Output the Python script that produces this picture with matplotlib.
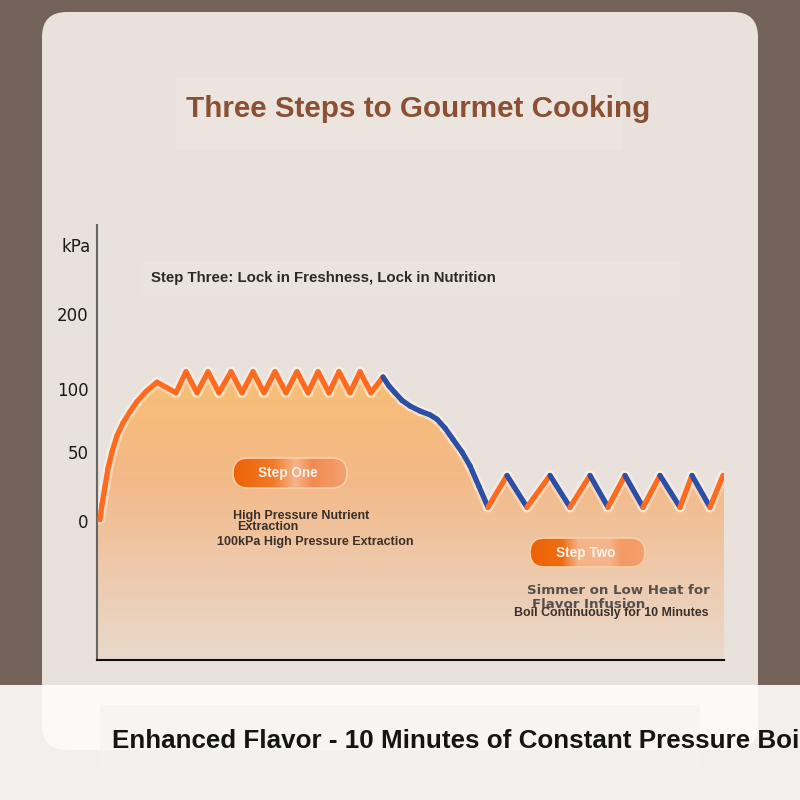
import numpy as np
import matplotlib.pyplot as plt
from matplotlib.patches import FancyBboxPatch, Rectangle, Polygon
from matplotlib.collections import LineCollection
from matplotlib.colors import LinearSegmentedColormap

# ---- data (time units, kPa) ----
rise_t = [3, 5, 8, 11, 15, 20, 26, 33, 40, 49, 60]
rise_kpa = [1, 12, 25, 38, 50, 63, 73, 82, 90, 98, 109]

plateau_t = [79, 89, 100, 111, 122, 134, 145, 156, 167, 178, 189, 200, 211,
             221, 232, 242, 253, 263, 274, 286]
plateau_kpa = [97, 123, 97, 123, 97, 123, 97, 123, 97, 123, 97, 123, 97,
               123, 97, 123, 97, 123, 97, 116]

drop_t = [292, 298, 305, 313, 323, 333, 340, 348, 356, 365, 373, 382, 391]
drop_kpa = [104, 97, 91, 86.5, 82.5, 79.5, 76, 69, 60, 50, 40, 25, 10]

low_t = [410, 430, 453, 473, 493, 511, 528, 546, 563, 583, 595, 613, 626]
low_kpa = [33, 10, 33, 10, 33, 10, 33, 10, 33, 10, 33, 10, 33]

tick_vals = [0, 50, 100, 200]
tick_labels = ['0', '50', '100', '200']

# uneven axis from the picture: kPa anchor -> height above baseline
scale_kpa = [-100, 0, 50, 100, 200, 320]
scale_pos = [0, 139, 208, 271, 346, 435]

ORANGE = '#ff6a1f'
BLUE = '#2b4fa6'

fig = plt.figure(figsize=(8, 8), dpi=100)
fig.patch.set_facecolor('#73635a')

# background layer in pixel coordinates
bg = fig.add_axes([0, 0, 1, 1])
bg.set_xlim(0, 800)
bg.set_ylim(800, 0)
bg.axis('off')

card = FancyBboxPatch((42 + 25, 12 + 25), 716 - 50, 738 - 50,
                      boxstyle='round,pad=25', fc='#e9e1db', ec='none')
bg.add_patch(card)
bg.add_patch(Rectangle((0, 685), 800, 115, fc='#f1f0ee', ec='none'))
card_low = FancyBboxPatch((42 + 25, 12 + 25), 716 - 50, 738 - 50,
                          boxstyle='round,pad=25', fc='#fbfaf8', ec='none')
bg.add_patch(card_low)
clip = Rectangle((0, 685), 800, 115, transform=bg.transData)
card_low.set_clip_path(clip)

# faint boxes behind titles
bg.add_patch(Rectangle((176, 78), 447, 72, fc='#ece5df', ec='none'))
bg.add_patch(Rectangle((140, 262), 540, 34, fc='#ebe4de', ec='none'))
bg.add_patch(Rectangle((100, 705), 600, 62, fc='#f4f3f1', ec='none', alpha=0.6))

bg.text(418, 109, 'Three Steps to Gourmet Cooking', ha='center', va='center',
        fontsize=21.3, fontweight='bold', color='#8a5034', family='Liberation Sans')
bg.text(151, 278, 'Step Three: Lock in Freshness, Lock in Nutrition', ha='left',
        va='center', fontsize=10.8, fontweight='bold', color='#2d2926',
        family='Liberation Sans')
bg.text(91, 247, 'kPa', ha='right', va='center', fontsize=12, color='#1a1a1a')

# ---- chart axes ----
ax = fig.add_axes([97 / 800, 1 - 660 / 800, (724 - 97) / 800, (660 - 225) / 800])
ax.set_facecolor('none')


def fwd(v):
    return np.interp(v, scale_kpa, scale_pos)


def inv(v):
    return np.interp(v, scale_pos, scale_kpa)


ax.set_yscale('function', functions=(fwd, inv))
ax.set_xlim(0, 627)
ax.set_ylim(-100, 320)

t_all = np.array(rise_t + plateau_t + drop_t + low_t, dtype=float)
k_all = np.array(rise_kpa + plateau_kpa + drop_kpa + low_kpa, dtype=float)

# gradient fill under the curve
poly_x = np.concatenate([[0, 0], t_all, [627, 627]])
poly_y = np.concatenate([[-100, k_all[0]], k_all, [k_all[-1], -100]])
fill = Polygon(np.column_stack([poly_x, poly_y]), closed=True,
               transform=ax.transData, fc='none', ec='none')
ax.add_patch(fill)
grad_cmap = LinearSegmentedColormap.from_list(
    'g', [(0, '#e9d9cc'), (0.25, '#efc6a4'), (0.42, '#f3b987'),
          (0.6, '#f6bd79'), (1, '#f6c078')])
grad = np.linspace(0, 1, 256).reshape(-1, 1)
im = ax.imshow(grad, cmap=grad_cmap, aspect='auto', origin='lower',
               extent=[0, 1, 0, 1], transform=ax.transAxes, zorder=1)
im.set_clip_path(fill)

# coloured line segments
n_orange = len(rise_t) + len(plateau_t)
n_drop_end = n_orange + len(drop_t)
segs, cols = [], []
for i in range(len(t_all) - 1):
    segs.append([(t_all[i], k_all[i]), (t_all[i + 1], k_all[i + 1])])
    if i < n_orange - 1:
        cols.append(ORANGE)
    elif i < n_drop_end - 1:
        cols.append(BLUE)
    else:
        cols.append(ORANGE if k_all[i + 1] > k_all[i] else BLUE)

glow = LineCollection(segs, colors='#fff6ee', linewidths=7.5, alpha=0.45,
                      capstyle='round', zorder=2)
ax.add_collection(glow)
lc = LineCollection(segs, colors=cols, linewidths=3.8, capstyle='round',
                    joinstyle='round', zorder=3)
ax.add_collection(lc)

ax.set_yticks(tick_vals)
ax.set_yticklabels(tick_labels, fontsize=12, color='#1a1a1a')
ax.tick_params(axis='y', length=0, pad=6)
ax.set_xticks([])
for s in ['top', 'right']:
    ax.spines[s].set_visible(False)
ax.spines['left'].set_color('#666666')
ax.spines['left'].set_linewidth(1.5)
ax.spines['bottom'].set_color('#111111')
ax.spines['bottom'].set_linewidth(1.5)

# ---- step pills and notes (pixel coords on an overlay) ----
ov = fig.add_axes([0, 0, 1, 1])
ov.set_xlim(0, 800)
ov.set_ylim(800, 0)
ov.axis('off')
ov.patch.set_alpha(0)


def pill(x0, y0, w, h, stops, label):
    box = FancyBboxPatch((x0, y0), w, h,
                         boxstyle='round,pad=0,rounding_size=%f' % (h / 2),
                         fc='none', ec='#f9cfa8', lw=1.2, zorder=5)
    ov.add_patch(box)
    cm = LinearSegmentedColormap.from_list('p', stops)
    g = np.linspace(0, 1, 256).reshape(1, -1)
    img = ov.imshow(g, cmap=cm, aspect='auto', extent=[x0, x0 + w, y0 + h, y0],
                    zorder=4)
    img.set_clip_path(box)
    ov.text(x0 + w / 2 - 2, y0 + h / 2 + 0.5, label, ha='center', va='center',
            fontsize=9.8, fontweight='bold', color='#fff3ea',
            family='Liberation Sans', zorder=6)


pill(233, 458, 114, 30, [(0, '#ee6104'), (0.35, '#f07a2a'), (0.55, '#f6b58a'),
                          (0.7, '#f18a50'), (1, '#f4a272')], 'Step One')
pill(530, 538, 115, 29, [(0, '#ee6104'), (0.28, '#ef6d14'), (0.42, '#f4b488'),
                          (0.68, '#f5b68e'), (0.8, '#f49a64'), (1, '#f4a070')],
     'Step Two')

note_kw = dict(fontweight='bold', family='Liberation Sans', zorder=6)
ov.text(233, 516, 'High Pressure Nutrient', fontsize=9, color='#3a302a',
        va='center', **note_kw)
ov.text(237, 527, 'Extraction', fontsize=9, color='#3a302a', va='center',
        **note_kw)
ov.text(217, 542, '100kPa High Pressure Extraction', fontsize=9,
        color='#3a302a', va='center', **note_kw)
ov.text(527, 591, 'Simmer on Low Heat for', fontsize=9.6, color='#55504c',
        va='center', fontweight='bold', family='DejaVu Sans', zorder=6)
ov.text(532, 604, 'Flavor Infusion', fontsize=9.6, color='#55504c',
        va='center', fontweight='bold', family='DejaVu Sans', zorder=6)
ov.text(514, 613, 'Boil Continuously for 10 Minutes', fontsize=8.9,
        color='#3a302a', va='center', **note_kw)

ov.text(112, 741, 'Enhanced Flavor - 10 Minutes of Constant Pressure Boiling',
        ha='left', va='center', fontsize=18.7, fontweight='bold',
        color='#151515', family='Liberation Sans', zorder=6)

fig.savefig('out.png', dpi=100, facecolor=fig.get_facecolor())
